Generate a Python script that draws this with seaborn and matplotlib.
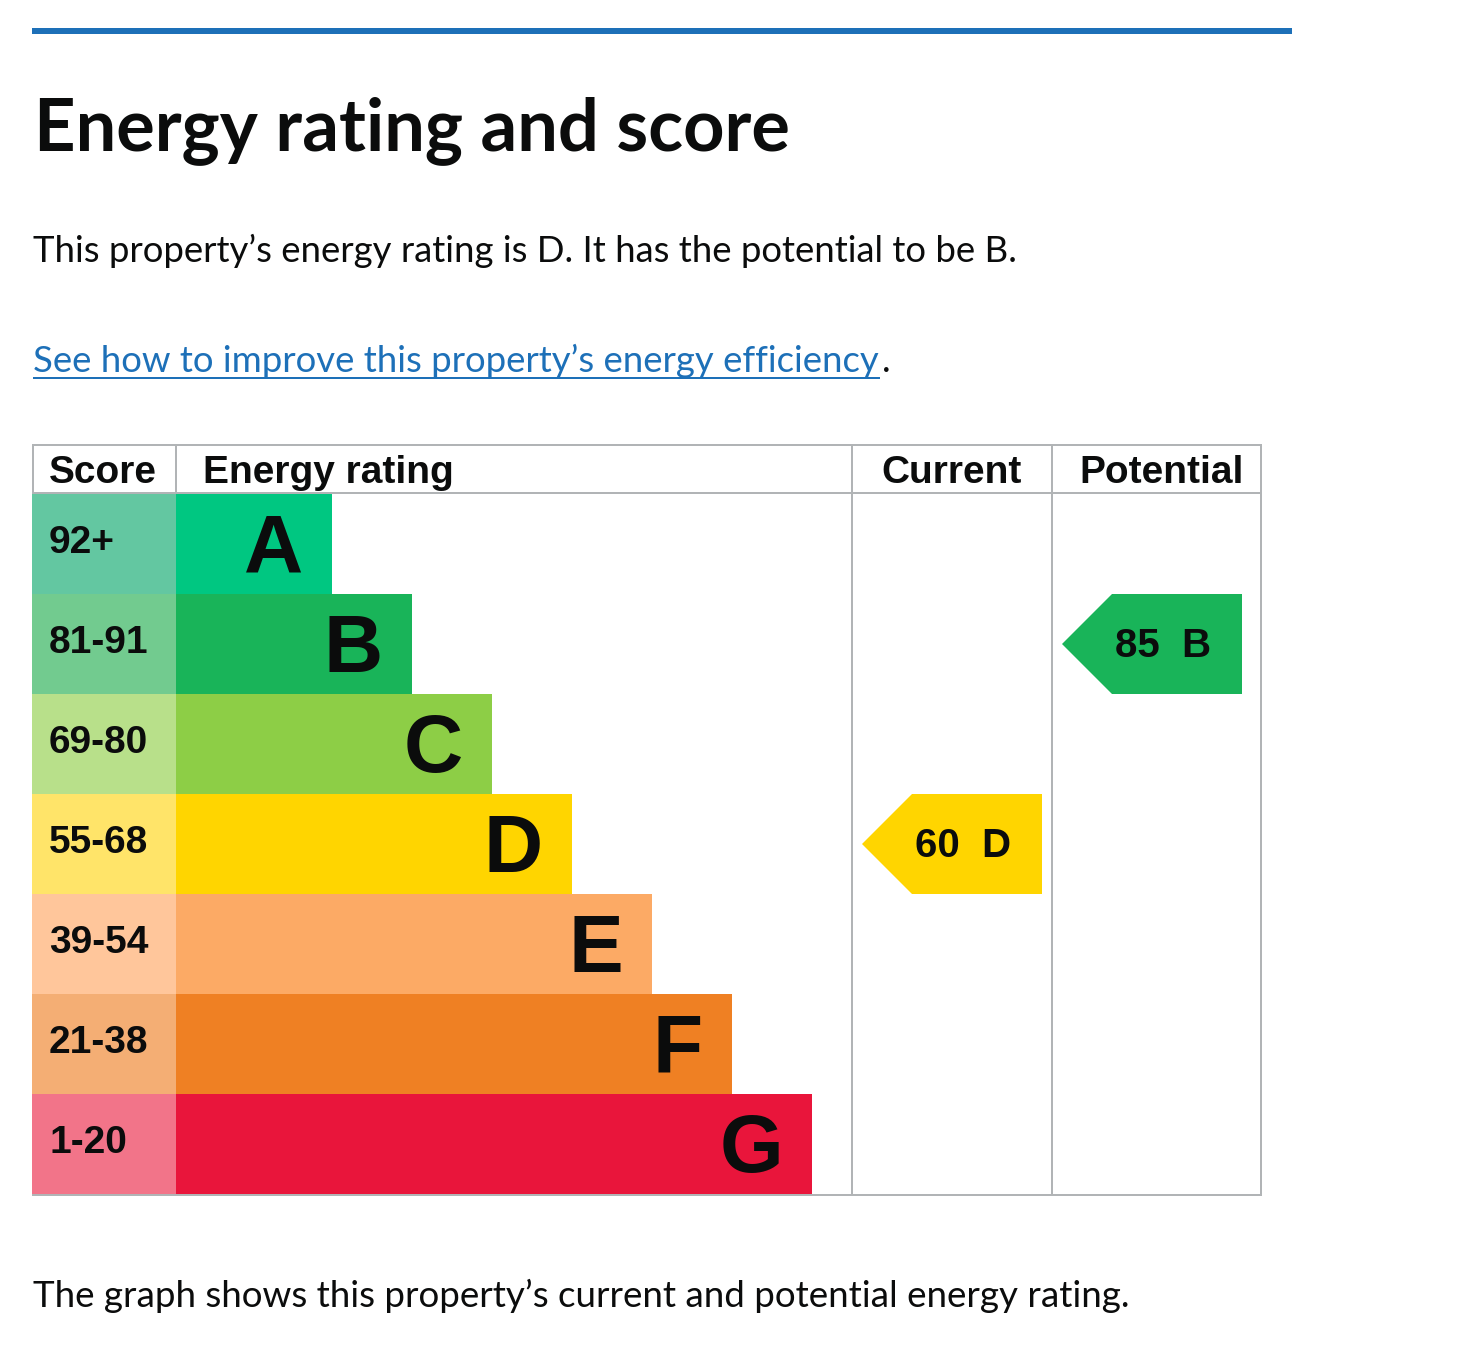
import pandas as pd
import seaborn as sns
import matplotlib.pyplot as plt

# EPC bands, top (best) to bottom (worst)
bands = ["A", "B", "C", "D", "E", "F", "G"]
score_ranges = ["92+", "81-91", "69-80", "55-68", "39-54", "21-38", "1-20"]
band_length = [2, 3, 4, 5, 6, 7, 8]
band_colors = ["#00c781", "#19b459", "#8dce46", "#ffd500", "#fcaa65", "#ef8023", "#e9153b"]
score_colors = ["#63c7a1", "#72cb8f", "#b8e08a", "#ffe469", "#ffc69b", "#f4ae74", "#f27489"]

current_score = 60
current_band = "D"
potential_score = 85
potential_band = "B"

headers = ["Score", "Energy rating", "Current", "Potential"]
title = "Energy rating and score"
summary = f"This property\u2019s energy rating is {current_band}. It has the potential to be {potential_band}."
link_text = "See how to improve this property\u2019s energy efficiency"
caption = "The graph shows this property\u2019s current and potential energy rating."

W, H = 1464, 1362
BLACK = "#0b0c0c"
GREY = "#b1b4b6"
BLUE = "#1d70b8"
PT = 0.72  # pixels -> points at dpi 100

sns.set_theme(style="white")
plt.rcParams["font.family"] = ["Liberation Sans", "DejaVu Sans"]

fig = plt.figure(figsize=(W / 100, H / 100), dpi=100)
fig.patch.set_facecolor("white")


def px_axes(x0, y0, x1, y1):
    ax = fig.add_axes([x0 / W, 1 - y1 / H, (x1 - x0) / W, (y1 - y0) / H])
    ax.patch.set_alpha(0)
    return ax


df = pd.DataFrame({"band": bands, "score": score_ranges, "length": band_length})
df["cell"] = 1

# rating bars
ax_band = px_axes(172, 494, 852, 1194)
sns.barplot(data=df, x="length", y="band", hue="band", palette=band_colors,
            saturation=1, width=1, linewidth=0, legend=False, ax=ax_band)
ax_band.set_xlim(0, 8.5)
ax_band.set_ylim(6.5, -0.5)
ax_band.axis("off")
for i, row in df.iterrows():
    ax_band.annotate(row["band"], xy=(row["length"], i), xytext=(-29 * PT, -28 * PT),
                     textcoords="offset points", ha="right", va="baseline",
                     fontsize=59, fontweight="bold", color=BLACK)

# score column
ax_score = px_axes(32, 494, 176, 1194)
sns.barplot(data=df, x="cell", y="band", hue="band", palette=score_colors,
            saturation=1, width=1, linewidth=0, legend=False, ax=ax_score)
ax_score.set_xlim(0, 1)
ax_score.set_ylim(6.5, -0.5)
ax_score.axis("off")
for i, row in df.iterrows():
    ax_score.annotate(row["score"], xy=(0, i), xytext=(17 * PT, -9 * PT),
                      textcoords="offset points", ha="left", va="baseline",
                      fontsize=28, fontweight="bold", color=BLACK)


def draw_arrow(ax, score, band):
    i = bands.index(band)
    color = band_colors[i]
    xs = [10, 60, 190, 190, 60]
    ys = [i, i - 0.5, i - 0.5, i + 0.5, i + 0.5]
    ax.fill(xs, ys, color=color, linewidth=0)
    ax.annotate(f"{score}  {band}", xy=(190, i), xytext=(-31 * PT, -13 * PT),
                textcoords="offset points", ha="right", va="baseline",
                fontsize=29, fontweight="bold", color=BLACK)


ax_cur = px_axes(852, 494, 1052, 1194)
ax_cur.set_xlim(0, 200)
ax_cur.set_ylim(6.5, -0.5)
ax_cur.axis("off")
draw_arrow(ax_cur, current_score, current_band)

ax_pot = px_axes(1052, 494, 1262, 1194)
ax_pot.set_xlim(0, 210)
ax_pot.set_ylim(6.5, -0.5)
ax_pot.axis("off")
draw_arrow(ax_pot, potential_score, potential_band)

# page overlay in pixel coordinates: rules, headers and body text
ov = fig.add_axes([0, 0, 1, 1])
ov.set_xlim(0, W)
ov.set_ylim(H, 0)
ov.axis("off")
ov.patch.set_alpha(0)

ov.plot([32, 1292], [31, 31], color=BLUE, lw=6 * PT, solid_capstyle="butt")

lw = 2 * PT
for y in [445, 493, 1195]:
    ov.plot([32, 1262], [y, y], color=GREY, lw=lw, solid_capstyle="butt")
for x in [33, 176]:
    ov.plot([x, x], [444, 494], color=GREY, lw=lw, solid_capstyle="butt")
for x in [852, 1052, 1261]:
    ov.plot([x, x], [444, 1196], color=GREY, lw=lw, solid_capstyle="butt")

for label, x, ha in zip(headers, [49, 203, 952, 1162], ["left", "left", "center", "center"]):
    ov.text(x, 483, label, ha=ha, va="baseline", fontsize=28, fontweight="bold", color=BLACK)

renderer = fig.canvas.get_renderer()


def fit_text(x, y, s, target_w, **kw):
    t = ov.text(x, y, s, fontsize=20, ha="left", va="baseline",
                family=["Lato", "DejaVu Sans"], **kw)
    w = t.get_window_extent(renderer).width
    t.set_fontsize(20 * target_w / w)
    return t


fit_text(34, 150, title, 756, fontweight="bold", color=BLACK)
fit_text(33, 262, summary, 987, color=BLACK)
link = fit_text(33, 372, link_text, 847, color=BLUE)
ov.plot([33, 880], [378, 378], color=BLUE, lw=2 * PT, solid_capstyle="butt")
ov.text(882, 372, ".", ha="left", va="baseline", fontsize=link.get_fontsize(),
        family=["Lato", "DejaVu Sans"], color=BLACK)
fit_text(33, 1307, caption, 1100, color=BLACK)

fig.savefig("out.png", dpi=100)
